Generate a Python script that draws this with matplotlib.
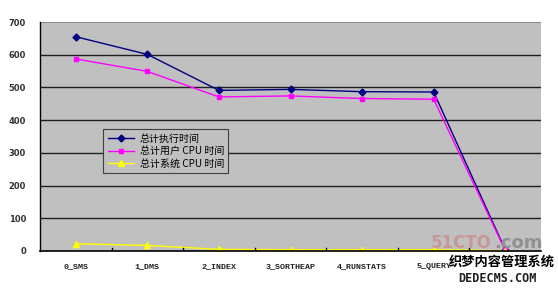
import matplotlib
matplotlib.use("Agg")
import matplotlib.pyplot as plt
import numpy as np

plt.rcParams['font.family'] = ['Noto Sans CJK SC', 'DejaVu Sans']

categories = ["0_SMS", "1_DMS", "2_INDEX", "3_SORTHEAP", "4_RUNSTATS", "5_QUERY", ""]
exec_time = [655, 601, 491, 494, 487, 486, 4]
user_cpu = [587, 549, 471, 474, 466, 464, 2]
sys_cpu = [22, 17, 5, 4, 4, 4, 1]
series_names = ["总计执行时间", "总计用户 CPU 时间", "总计系统 CPU 时间"]
yticks = [0, 100, 200, 300, 400, 500, 600, 700]

fig = plt.figure(figsize=(5.58, 2.89), dpi=100)
fig.patch.set_facecolor("white")
ax = fig.add_axes([40/558, 38/289, 501/558, 229/289])
ax.set_facecolor("#C0C0C0")

x = np.arange(len(categories))
ax.plot(x, exec_time, color="#000080", marker="D", markersize=3.5, lw=1.0, label=series_names[0])
ax.plot(x, user_cpu, color="#FF00FF", marker="s", markersize=3.5, lw=1.0, label=series_names[1])
ax.plot(x, sys_cpu, color="#FFFF00", marker="^", markersize=4, lw=1.0, label=series_names[2])

ax.set_xlim(-0.5, len(categories) - 0.5)
ax.set_ylim(0, 700)
ax.set_yticks(yticks)
ax.set_yticklabels([str(v) for v in yticks], fontsize=6, family="DejaVu Sans", fontweight="bold", color="#333333")
for v in yticks[1:-1]:
    ax.axhline(v, color="#202020", lw=1.0, zorder=0.5)
ax.axhline(700, color="#808080", lw=1.2, zorder=0.5)

ax.set_xticks(x)
ax.set_xticklabels(categories, fontsize=6, family="Liberation Mono", fontweight="bold", color="#222222")
ax.tick_params(axis="x", length=0, pad=9)
ax.tick_params(axis="y", length=0, pad=10)
for b in np.arange(0.5, len(categories) - 0.5, 1.0):
    ax.plot([b, b], [0, 8], color="black", lw=1.0, zorder=3)

for s in ["top", "right"]:
    ax.spines[s].set_visible(False)
ax.spines["left"].set_color("black")
ax.spines["bottom"].set_color("black")
ax.spines["left"].set_linewidth(1.0)
ax.spines["bottom"].set_linewidth(1.2)

leg = ax.legend(loc="upper left", bbox_to_anchor=(63/501, (251-129)/229), fontsize=7.2,
                frameon=True, fancybox=False, borderpad=0.45, labelspacing=0.25,
                handlelength=2.6, handletextpad=0.6, borderaxespad=0)
leg.get_frame().set_facecolor("#C0C0C0")
leg.get_frame().set_edgecolor("#404040")
leg.get_frame().set_linewidth(0.8)
leg.get_frame().set_alpha(1)

# watermark
fig.text(431/558, 1 - 248/289, "51CTO", fontsize=12, fontweight="bold", color="#C89090",
         family="DejaVu Sans", alpha=0.85, va="baseline")
fig.text(494/558, 1 - 248/289, ".com", fontsize=13, fontweight="bold", color="#909090",
         family="DejaVu Sans", va="baseline")
fig.text(449/558, 1 - 266/289, "织梦内容管理系统", fontsize=9.5, fontweight="bold", color="black",
         va="baseline")
fig.text(458/558, 1 - 282/289, "DEDECMS.COM", fontsize=8.5, fontweight="bold", color="#202020",
         family="DejaVu Sans Mono", va="baseline")

fig.savefig("out.png", dpi=100, facecolor="white")
